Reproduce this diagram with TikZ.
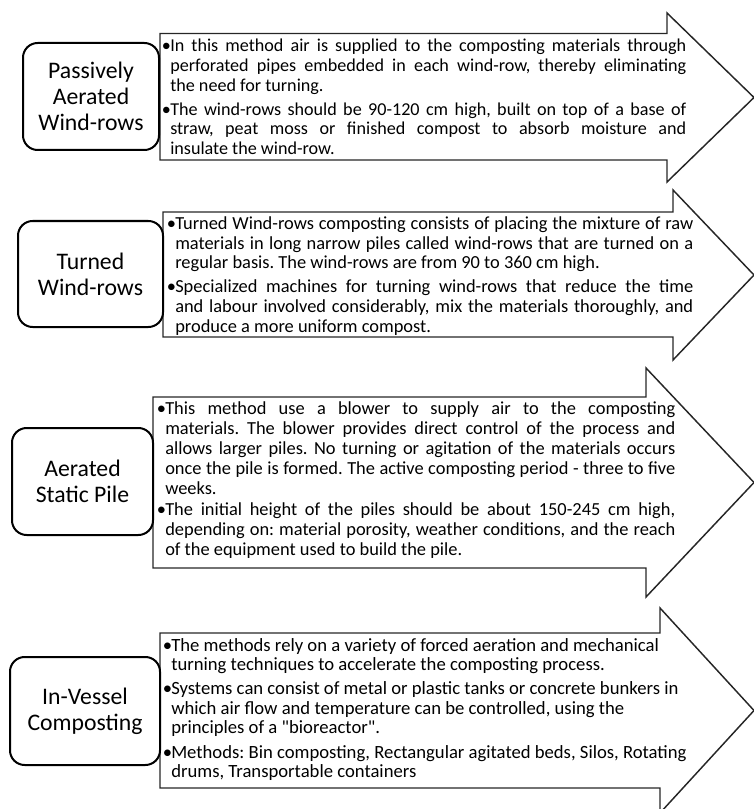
\documentclass[tikz,border=0pt]{standalone}
\usepackage{fontspec}
\setmainfont{Carlito}[Ligatures=TeXOff]
\frenchspacing
\newdimen\px \px=0.75pt
\newdimen\hg \hg=8.5\px
\newcommand\bulJ[2]{\makebox[\hg][l]{•}\makebox[#1][s]{#2}}
\newcommand\conJ[2]{\hspace*{\hg}\makebox[#1][s]{#2}}
\newcommand\bulR[1]{\makebox[\hg][l]{•}#1}
\newcommand\conR[1]{\hspace*{\hg}#1}
\begin{document}
\begin{tikzpicture}[x=0.75pt,y=-0.75pt,
 arr/.style={draw=black!85, line width=1.1pt, line join=miter},
 lbl/.style={draw=black, line width=1.5pt, rounded corners=11pt, fill=white, align=center, inner sep=0pt, font=\fontsize{17.8pt}{19.5pt}\selectfont},
 body/.style={anchor=north west, inner sep=0pt, align=left}]
\useasboundingbox (0,0) rectangle (753,809);
% arrows
\draw[arr] (160,33.5) -- (667,33.5) -- (667,13) -- (754,97.5) -- (667,182) -- (667,160) -- (160,160) -- cycle;
\draw[arr] (163,212) -- (673,212) -- (673,190) -- (754,275) -- (673,360) -- (673,337) -- (163,337) -- cycle;
\draw[arr] (153,397) -- (646,397) -- (646,368) -- (754,482.5) -- (646,597) -- (646,568) -- (153,568) -- cycle;
\draw[arr] (160,633) -- (660,633) -- (660,608) -- (754,710.5) -- (660,813) -- (660,788) -- (160,788) -- cycle;
% labels
\node[lbl, minimum width=136\px, minimum height=107\px] (l1) at (91,96.5) {Passively\\Aerated\\Wind-rows};
\node[lbl, minimum width=145\px, minimum height=106\px] (l2) at (90.5,274) {Turned\\Wind-rows};
\node[lbl, minimum width=141\px, minimum height=107\px] (l3) at (82.5,481.5) {Aerated\\Static Pile};
\node[lbl, minimum width=150\px, minimum height=108\px] (l4) at (85,711) {In-Vessel\\Composting};
% texts
\node[body, font=\fontsize{13.6pt}{14.7pt}\selectfont] (t1) at (161.5,39) {\bulJ{516\px}{In this method air is supplied to the composting materials through}\\
\conJ{516\px}{perforated pipes embedded in each wind-row, thereby eliminating}\\
\conR{the need for turning.}\\[3.4pt]
\bulJ{516\px}{The wind-rows should be 90-120 cm high, built on top of a base of}\\
\conJ{516\px}{straw, peat moss or finished compost to absorb moisture and}\\
\conR{insulate the wind-row.}};
\node[body, font=\fontsize{13.8pt}{14.7pt}\selectfont] (t2) at (166.5,216.5) {\bulJ{518\px}{Turned Wind-rows composting consists of placing the mixture of raw}\\
\conJ{518\px}{materials in long narrow piles called wind-rows that are turned on a}\\
\conR{regular basis. The wind-rows are from 90 to 360 cm high.}\\[3.4pt]
\bulJ{518\px}{Specialized machines for turning wind-rows that reduce the time}\\
\conJ{518\px}{and labour involved considerably, mix the materials thoroughly, and}\\
\conR{produce a more uniform compost.}};
\node[body, font=\fontsize{13.8pt}{14.9pt}\selectfont] (t3) at (156.5,401.5) {\bulJ{510\px}{This method use a blower to supply air to the composting}\\
\conJ{510\px}{materials. The blower provides direct control of the process and}\\
\conJ{510\px}{allows larger piles. No turning or agitation of the materials occurs}\\
\conJ{510\px}{once the pile is formed. The active composting period - three to five}\\
\conR{weeks.}\\[1.2pt]
\bulJ{510\px}{The initial height of the piles should be about 150-245 cm high,}\\
\conJ{510\px}{depending on: material porosity, weather conditions, and the reach}\\
\conR{of the equipment used to build the pile.}};
\node[body, font=\fontsize{14pt}{14.5pt}\selectfont] (t4) at (162.5,638) {\bulR{The methods rely on a variety of forced aeration and mechanical}\\
\conR{turning techniques to accelerate the composting process.}\\[3.8pt]
\bulR{Systems can consist of metal or plastic tanks or concrete bunkers in}\\
\conR{which air flow and temperature can be controlled, using the}\\
\conR{principles of a "bioreactor".}\\[3.8pt]
\bulR{Methods: Bin composting, Rectangular agitated beds, Silos, Rotating}\\
\conR{drums, Transportable containers}};
\end{tikzpicture}
\end{document}
